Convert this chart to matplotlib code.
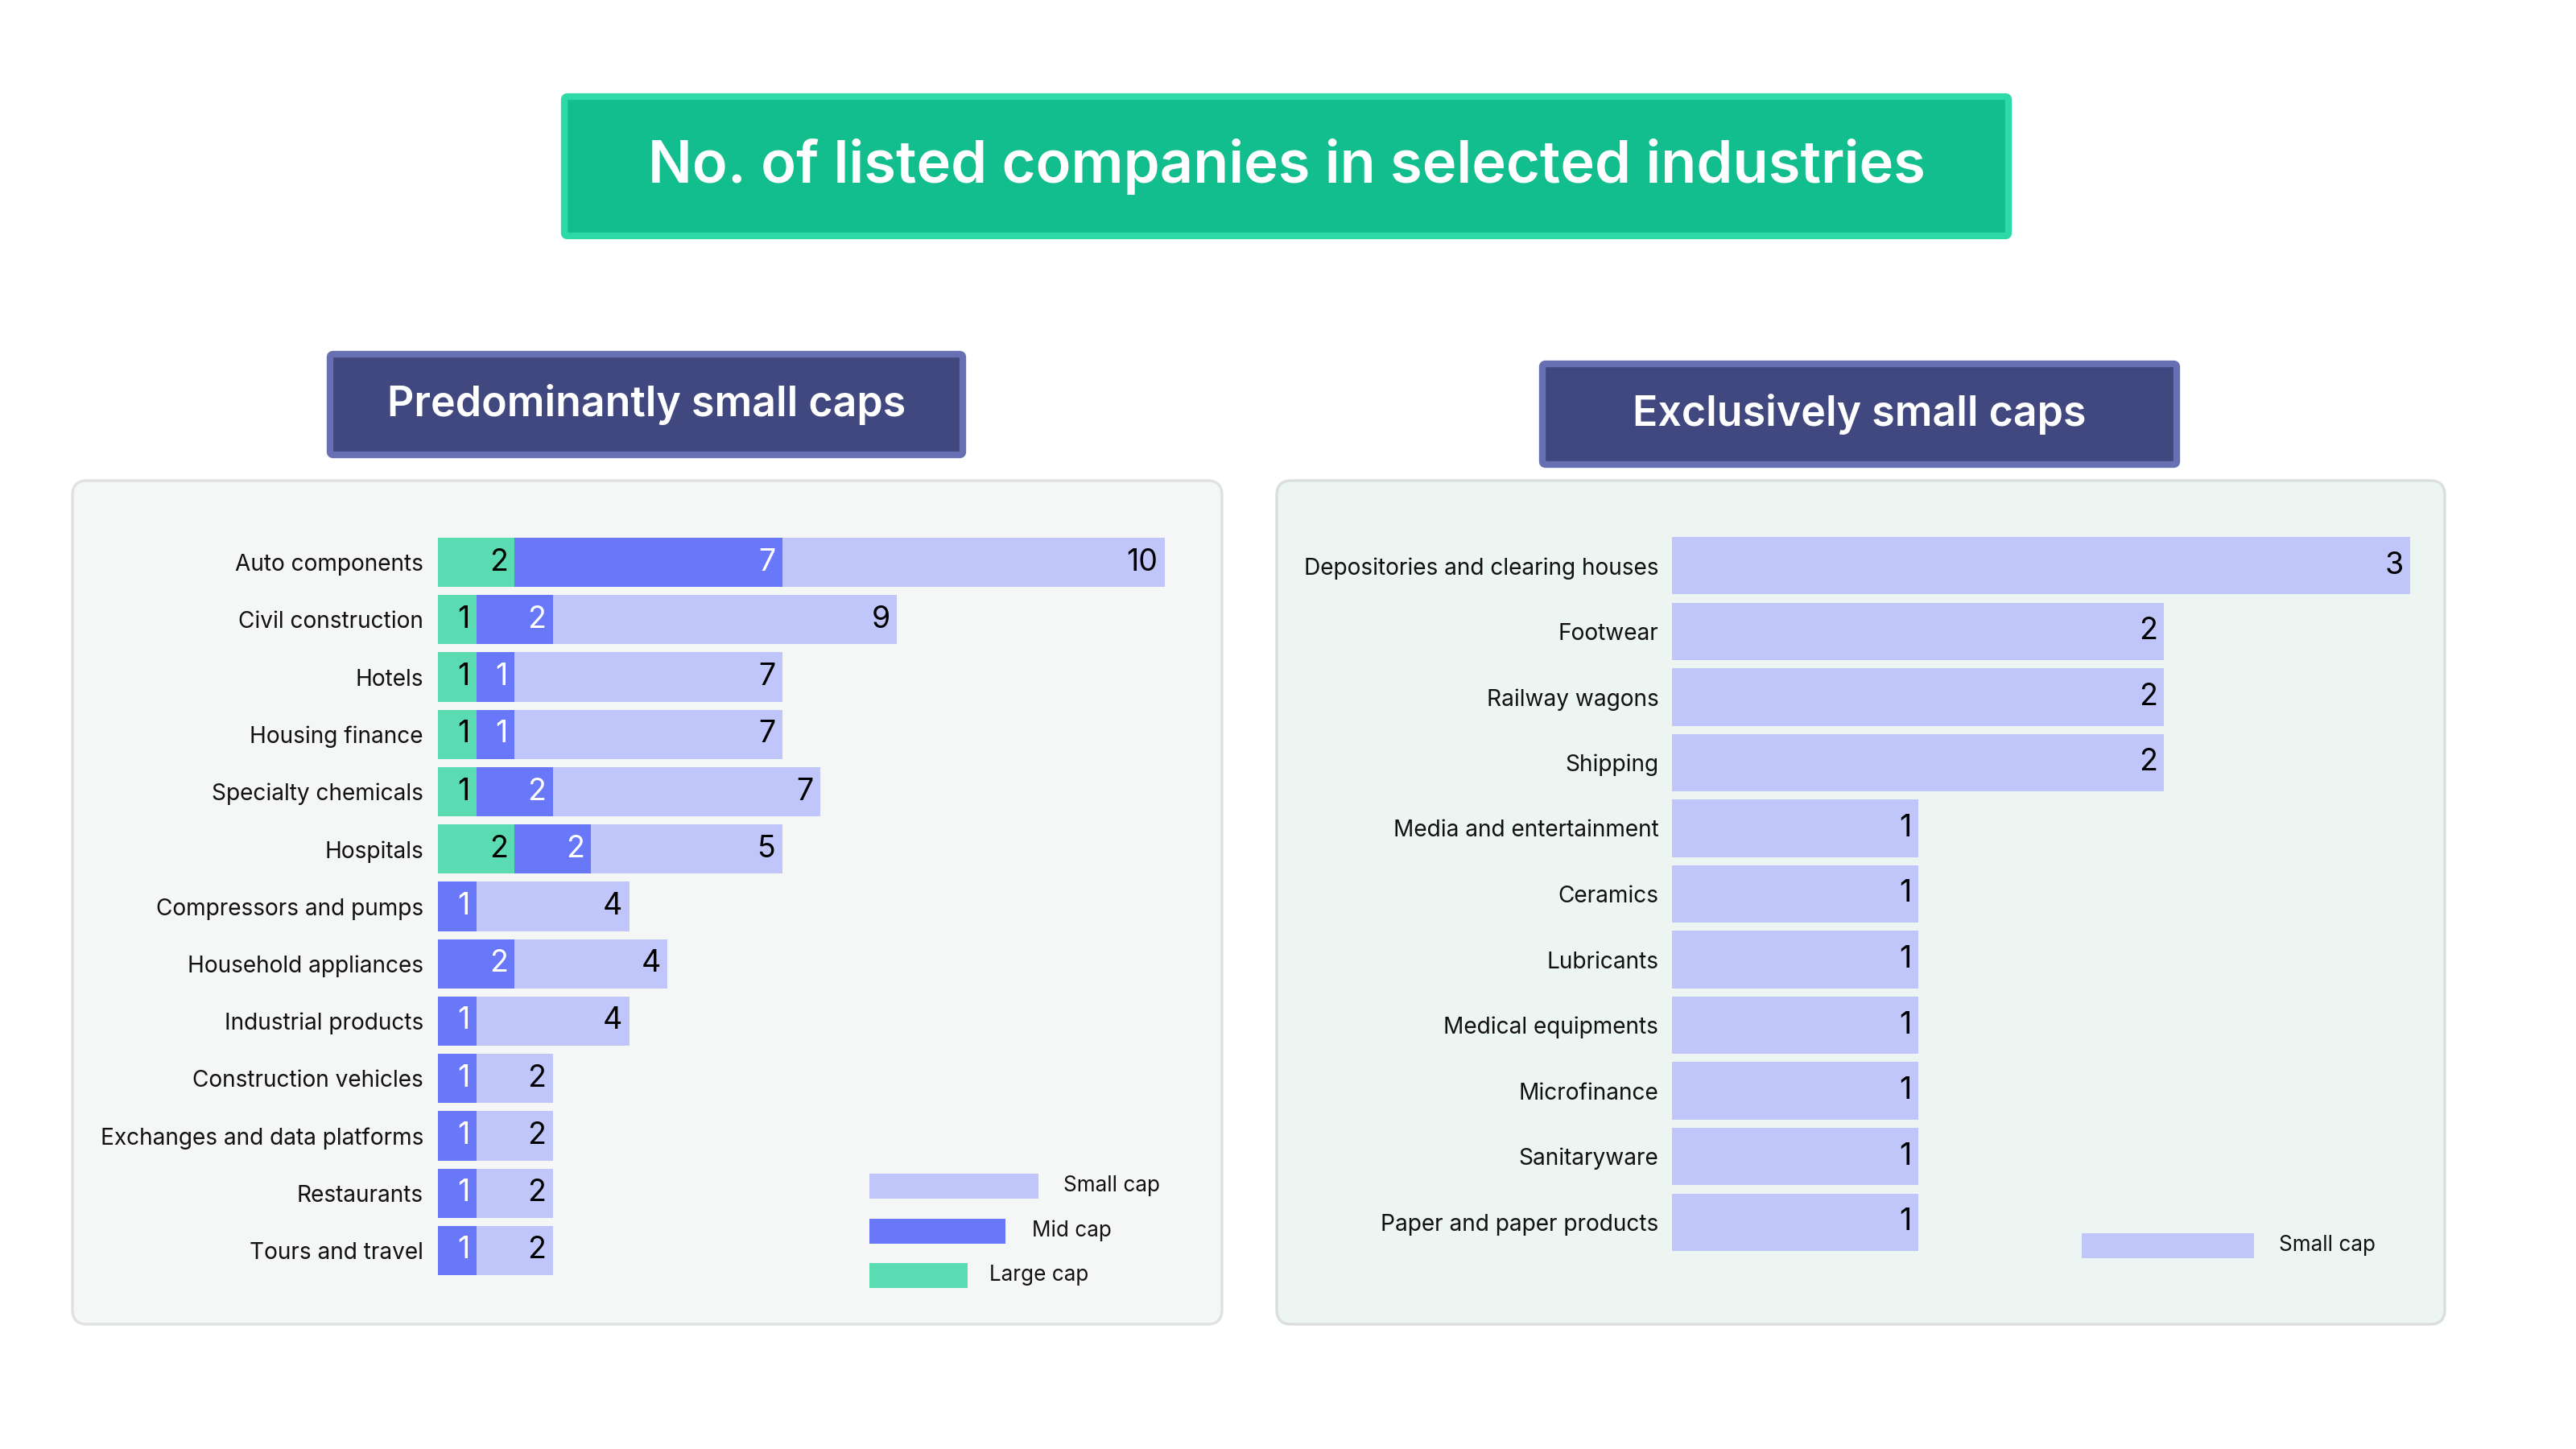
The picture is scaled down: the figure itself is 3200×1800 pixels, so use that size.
import matplotlib
matplotlib.use("Agg")
import matplotlib.pyplot as plt
from matplotlib.patches import FancyBboxPatch, Rectangle

plt.rcParams['font.family'] = ['Inter', 'DejaVu Sans']

# data
left_cats = ["Auto components", "Civil construction", "Hotels", "Housing finance",
             "Specialty chemicals", "Hospitals", "Compressors and pumps",
             "Household appliances", "Industrial products", "Construction vehicles",
             "Exchanges and data platforms", "Restaurants", "Tours and travel"]
large_cap = [2, 1, 1, 1, 1, 2, 0, 0, 0, 0, 0, 0, 0]
mid_cap = [7, 2, 1, 1, 2, 2, 1, 2, 1, 1, 1, 1, 1]
small_cap = [10, 9, 7, 7, 7, 5, 4, 4, 4, 2, 2, 2, 2]

right_cats = ["Depositories and clearing houses", "Footwear", "Railway wagons",
              "Shipping", "Media and entertainment", "Ceramics", "Lubricants",
              "Medical equipments", "Microfinance", "Sanitaryware",
              "Paper and paper products"]
right_small = [3, 2, 2, 2, 1, 1, 1, 1, 1, 1, 1]

title = "No. of listed companies in selected industries"
left_title = "Predominantly small caps"
right_title = "Exclusively small caps"

# colours
c_large = "#5BDBB2"
c_mid = "#6878F8"
c_small = "#C1C6FA"

W, H = 3200, 1800
fig = plt.figure(figsize=(16, 9), dpi=200)
fig.patch.set_facecolor("white")

# background axes in pixel coordinates
bg = fig.add_axes([0, 0, 1, 1])
bg.set_xlim(0, W)
bg.set_ylim(H, 0)
bg.axis("off")


def box(x0, y0, x1, y1, fc, ec, lw=1.5, r=6):
    p = FancyBboxPatch((x0, y0), x1 - x0, y1 - y0,
                       boxstyle="round,pad=0,rounding_size=%d" % r,
                       fc=fc, ec=ec, lw=lw)
    bg.add_patch(p)


# panels
box(90, 597, 1518, 1645, "#F5F7F6", "#DFE2E1", lw=1.2, r=18)
box(1586, 597, 3037, 1645, "#ECF5F1", "#DADFDD", lw=1.2, r=18)

# title boxes
box(701, 120, 2495, 293, "#12BD8E", "#2ED9A8", lw=3, r=4)
bg.text((701 + 2495) / 2, 207, title, ha="center", va="center",
        color="white", fontsize=26, fontweight="semibold")
box(410, 440, 1196, 565, "#41477F", "#6670B3", lw=3, r=4)
bg.text((410 + 1196) / 2, 502, left_title, ha="center", va="center",
        color="white", fontsize=18.7, fontweight="semibold")
box(1916, 452, 2704, 577, "#41477F", "#6670B3", lw=3, r=4)
bg.text((1916 + 2704) / 2, 514, right_title, ha="center", va="center",
        color="white", fontsize=18.7, fontweight="semibold")


def px_axes(x0, y0, x1, y1):
    return fig.add_axes([x0 / W, 1 - y1 / H, (x1 - x0) / W, (y1 - y0) / H])


# left chart
axl = px_axes(544, 663, 1480, 1589)
axl.patch.set_alpha(0)
yl = range(len(left_cats))
left_large_end = large_cap
left_mid_end = [a + b for a, b in zip(large_cap, mid_cap)]
left_small_end = [a + b for a, b in zip(left_mid_end, small_cap)]
axl.barh(yl, large_cap, height=0.86, color=c_large)
axl.barh(yl, mid_cap, left=left_large_end, height=0.86, color=c_mid)
axl.barh(yl, small_cap, left=left_mid_end, height=0.86, color=c_small)
axl.set_xlim(0, (1480 - 544) / 47.5)
axl.set_ylim(len(left_cats) - 0.5, -0.5)
axl.set_yticks(list(yl))
axl.set_yticklabels(left_cats, fontsize=10.1, color="#111111")
axl.tick_params(axis="y", length=0, pad=6.5)
axl.set_xticks([])
for s in axl.spines.values():
    s.set_visible(False)

for i in yl:
    for v, end, col in [(large_cap[i], left_large_end[i], "black"),
                        (mid_cap[i], left_mid_end[i], "white"),
                        (small_cap[i], left_small_end[i], "black")]:
        if v > 0:
            axl.annotate(str(v), xy=(end, i), xytext=(-3, 0),
                         textcoords="offset points", ha="right", va="center",
                         fontsize=13.5, color=col)

# left legend
for (x1, yc, tx, col, lab) in [(1290, 1473, 1321, c_small, "Small cap"),
                               (1249, 1529, 1282, c_mid, "Mid cap"),
                               (1202, 1584, 1229, c_large, "Large cap")]:
    bg.add_patch(Rectangle((1080, yc - 15.5), x1 - 1080, 31, fc=col, ec="none"))
    bg.text(tx, yc, lab, ha="left", va="center", fontsize=9.4, color="#111111")

# right chart
axr = px_axes(2077, 662, 3010, 1559)
axr.patch.set_alpha(0)
yr = range(len(right_cats))
axr.barh(yr, right_small, height=0.875, color=c_small)
axr.set_xlim(0, (3010 - 2077) / 305.7)
axr.set_ylim(len(right_cats) - 0.5, -0.5)
axr.set_yticks(list(yr))
axr.set_yticklabels(right_cats, fontsize=10.1, color="#111111")
axr.tick_params(axis="y", length=0, pad=6)
axr.set_xticks([])
for s in axr.spines.values():
    s.set_visible(False)
for i in yr:
    axr.annotate(str(right_small[i]), xy=(right_small[i], i), xytext=(-3, 0),
                 textcoords="offset points", ha="right", va="center",
                 fontsize=13.5, color="black")

# right legend
bg.add_patch(Rectangle((2586, 1531.5), 2800 - 2586, 31, fc=c_small, ec="none"))
bg.text(2831, 1547, "Small cap", ha="left", va="center", fontsize=9.4, color="#111111")

fig.savefig("out.png", dpi=200)
